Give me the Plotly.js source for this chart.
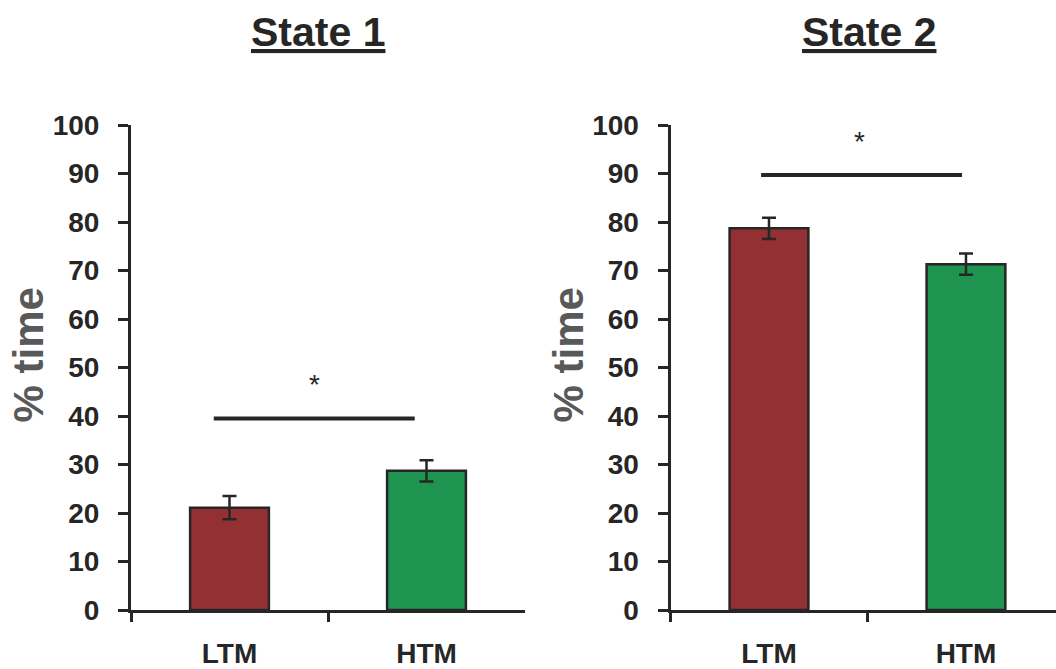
<!DOCTYPE html>
<html>
<head>
<meta charset="utf-8">
<script src="https://cdn.plot.ly/plotly-3.0.1.min.js"></script>
<style>html,body{margin:0;padding:0;background:#fff;}#chart{width:1056px;height:669px;}</style>
</head>
<body>
<div id="chart"></div>
<script>
// ---- data ----
const categories = ['LTM', 'HTM'];
const state1Values = [21.1, 28.7];
const state1Errors = [2.4, 2.2];
const state2Values = [78.7, 71.3];
const state2Errors = [2.2, 2.2];
const panelTitles = ['State 1', 'State 2'];
const yTickValues = [0, 10, 20, 30, 40, 50, 60, 70, 80, 90, 100];
const yTitle = '% time';
// significance bars (in category units / y units) and star labels
const sigLevels = [39.5, 89.7];
const sigStarts = [-0.08, -0.04];
const sigEnds = [0.94, 0.98];
const starX = [0.43, 0.46];
const starY = [46.5, 96.6];
const starText = ['*', '*'];

// ---- style ----
const dark = '#262626';
const barColors = ['#923033', '#1f9450'];
const font = 'Liberation Sans, Arial, sans-serif';

function barTrace(vals, errs, xa, ya) {
  return {
    type: 'bar', x: categories, y: vals, xaxis: xa, yaxis: ya,
    marker: {color: barColors, line: {color: dark, width: 2.5}},
    error_y: {type: 'data', array: errs, visible: true, color: dark, thickness: 2.5, width: 7},
    showlegend: false, hoverinfo: 'skip'
  };
}

const data = [
  barTrace(state1Values, state1Errors, 'x', 'y'),
  barTrace(state2Values, state2Errors, 'x2', 'y2')
];

function xAxis(domain, range) {
  return {
    domain: domain, type: 'category', range: range,
    showline: true, linecolor: dark, linewidth: 3,
    ticks: 'outside', tickson: 'boundaries', ticklen: 9, tickwidth: 3, tickcolor: dark,
    tickfont: {family: font, size: 28, color: dark, weight: 'bold'},
    ticklabelstandoff: 16,
    showgrid: false, zeroline: false, fixedrange: true
  };
}
function yAxis(anchor) {
  return {
    anchor: anchor, domain: [0, 1], range: [0, 100],
    tickvals: yTickValues, ticktext: yTickValues.map(String),
    showline: true, linecolor: dark, linewidth: 3,
    ticks: 'outside', ticklen: 10, tickwidth: 3, tickcolor: dark,
    tickfont: {family: font, size: 28, color: dark, weight: 'bold'},
    ticklabelstandoff: 13,
    showgrid: false, zeroline: false, fixedrange: true
  };
}

const shapes = [];
const annotations = [];
['', '2'].forEach((s, i) => {
  shapes.push({
    type: 'line', xref: 'x' + s, yref: 'y' + s,
    x0: sigStarts[i], x1: sigEnds[i], y0: sigLevels[i], y1: sigLevels[i],
    line: {color: dark, width: 4}
  });
  annotations.push({
    xref: 'x' + s, yref: 'y' + s, x: starX[i], y: starY[i], text: starText[i],
    showarrow: false, font: {family: font, size: 28, color: dark}, xanchor: 'center', yanchor: 'middle'
  });
});
const titleX = [317.5 / 1056, 868.5 / 1056];
panelTitles.forEach((t, i) => {
  annotations.push({
    xref: 'paper', yref: 'paper', x: titleX[i], y: 1, yshift: 93,
    text: '<u>' + t + '</u>', showarrow: false, xanchor: 'center', yanchor: 'middle',
    font: {family: font, size: 41, color: dark, weight: 'bold'}
  });
});
// y-axis titles
const yTitleX = [28 / 1056, 568 / 1056];
yTitleX.forEach((x) => {
  annotations.push({
    xref: 'paper', yref: 'paper', x: x, y: 0.5, yshift: 12,
    text: yTitle, textangle: -90, showarrow: false, xanchor: 'center', yanchor: 'middle',
    font: {family: font, size: 42, color: '#595959', weight: 'bold'}
  });
});

const layout = {
  width: 1056, height: 669,
  margin: {l: 0, r: 0, t: 125, b: 59},
  paper_bgcolor: '#fff', plot_bgcolor: 'rgba(0,0,0,0)',
  bargap: 0.6,
  xaxis: xAxis([131 / 1056, 525 / 1056], [-0.5, 1.5]),
  yaxis: yAxis('x'),
  xaxis2: xAxis([670.5 / 1056, 1], [-0.5, 1.457]),
  yaxis2: yAxis('x2'),
  shapes: shapes, annotations: annotations
};

Plotly.newPlot('chart', data, layout, {displayModeBar: false, staticPlot: true});
</script>
</body>
</html>
